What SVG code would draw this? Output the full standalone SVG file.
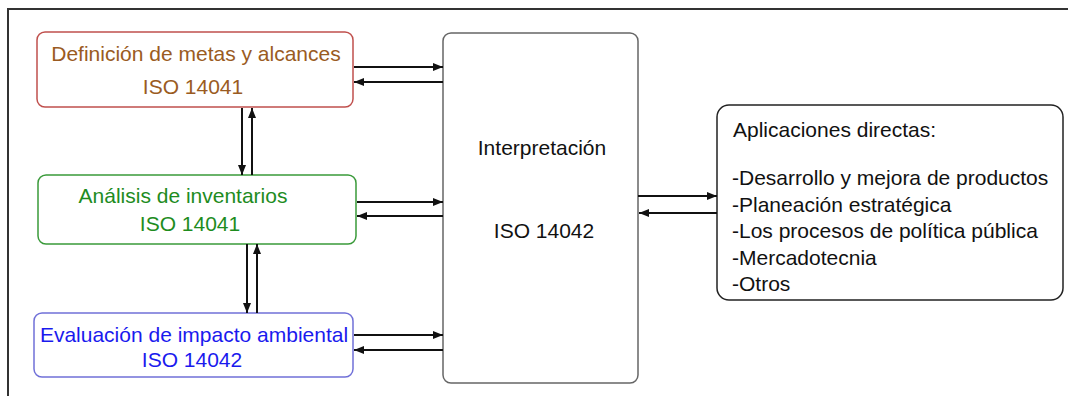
<svg xmlns="http://www.w3.org/2000/svg" width="1068" height="396" viewBox="0 0 1068 396">
<style>
text{font-family:"Liberation Sans",Arial,sans-serif;font-size:21px}
.c{text-anchor:middle}
.box{fill:#fff;stroke-width:1.5}
.ln{stroke:#111;stroke-width:2;fill:none;marker-end:url(#ah)}
</style>
<defs>
<marker id="ah" viewBox="0 0 10 8" refX="10" refY="4" markerWidth="10" markerHeight="8" markerUnits="userSpaceOnUse" orient="auto">
<path d="M0,0 L10,4 L0,8 Z" fill="#111"/>
</marker>
</defs>
<rect width="1068" height="396" fill="#fff"/>
<path d="M8,396 V9 H1068" fill="none" stroke="#333" stroke-width="2"/>
<g id="definicion">
<rect class="box" x="37" y="32" width="316" height="75" rx="8" stroke="#c0504d"/>
<text class="c" x="196" y="61" fill="#9a5b22">Definición de metas y alcances</text>
<text class="c" x="193" y="94" fill="#9a5b22">ISO 14041</text>
</g>
<g id="analisis">
<rect class="box" x="38" y="175" width="318" height="69" rx="8" stroke="#3a9a3a"/>
<text class="c" x="183" y="203" fill="#1e8c1e">Análisis de inventarios</text>
<text class="c" x="190" y="231" fill="#1e8c1e">ISO 14041</text>
</g>
<g id="evaluacion">
<rect class="box" x="34" y="313" width="319" height="64" rx="8" stroke="#7070d8"/>
<text class="c" x="194" y="342" fill="#1a1aee">Evaluación de impacto ambiental</text>
<text class="c" x="192" y="367" fill="#1a1aee">ISO 14042</text>
</g>
<g id="interpretacion">
<rect class="box" x="443" y="33" width="195" height="350" rx="8" stroke="#666"/>
<text class="c" x="542" y="155" fill="#111">Interpretación</text>
<text class="c" x="544" y="238" fill="#111">ISO 14042</text>
</g>
<g id="aplicaciones">
<rect class="box" x="717" y="105" width="346" height="195" rx="12" stroke="#222"/>
<text x="733" y="137" fill="#111">Aplicaciones directas:</text>
<text x="732" y="185" fill="#111">-Desarrollo y mejora de productos</text>
<text x="732" y="212" fill="#111">-Planeación estratégica</text>
<text x="732" y="238" fill="#111">-Los procesos de política pública</text>
<text x="732" y="265" fill="#111">-Mercadotecnia</text>
<text x="732" y="291" fill="#111">-Otros</text>
</g>
<g id="connectors">
<path class="ln" d="M354,67 H443"/>
<path class="ln" d="M443,82 H354"/>
<path class="ln" d="M357,202 H443"/>
<path class="ln" d="M443,216 H357"/>
<path class="ln" d="M354,335 H443"/>
<path class="ln" d="M443,350 H354"/>
<path class="ln" d="M638,196 H717"/>
<path class="ln" d="M717,213 H639"/>
<path class="ln" d="M242,108 V175"/>
<path class="ln" d="M252,175 V108"/>
<path class="ln" d="M247,244 V313"/>
<path class="ln" d="M257,313 V244"/>
</g>
</svg>
